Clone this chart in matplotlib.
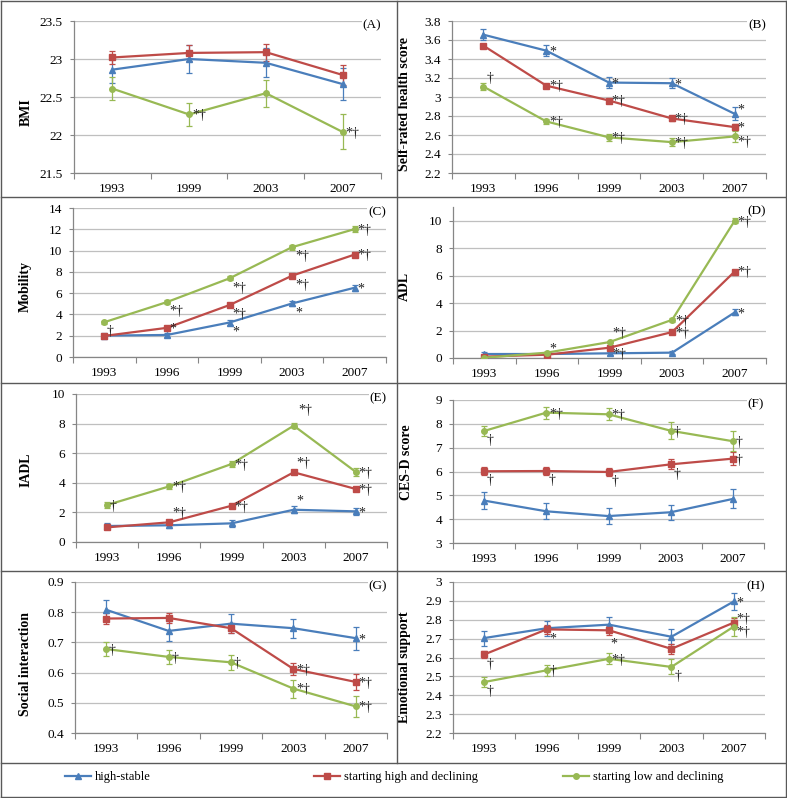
import numpy as np
import matplotlib
matplotlib.use('Agg')
import matplotlib.pyplot as plt
from matplotlib.lines import Line2D
from matplotlib.ticker import FixedLocator, NullFormatter, FormatStrFormatter

plt.rcParams['font.family'] = ['Liberation Serif', 'DejaVu Serif']

W, H = 787, 798

years4 = ['1993', '1999', '2003', '2007']
years5 = ['1993', '1996', '1999', '2003', '2007']
groups = ['high-stable', 'starting high and declining', 'starting low and declining']
colors = ['#4A7EBB', '#BE4B48', '#98B954']
markers = ['^', 's', 'o']

# rows: high-stable, starting high and declining, starting low and declining
bmi = [[22.86, 23.00, 22.95, 22.67],
       [23.02, 23.08, 23.09, 22.79],
       [22.61, 22.27, 22.55, 22.04]]
bmi_err = [[0.18, 0.19, 0.19, 0.21],
           [0.09, 0.11, 0.11, 0.13],
           [0.15, 0.15, 0.18, 0.23]]

srh = [[3.656, 3.488, 3.152, 3.145, 2.823],
       [3.54, 3.12, 2.963, 2.774, 2.683],
       [3.11, 2.743, 2.575, 2.525, 2.585]]
srh_err = [[0.055, 0.06, 0.055, 0.055, 0.07],
           [0.02, 0.02, 0.02, 0.025, 0.03],
           [0.04, 0.03, 0.035, 0.045, 0.055]]

mobility = [[2.01, 2.07, 3.24, 5.03, 6.51],
            [1.98, 2.74, 4.88, 7.64, 9.63],
            [3.27, 5.16, 7.39, 10.32, 12.02]]
mobility_err = [[0.2, 0.2, 0.25, 0.25, 0.3],
                [0.15, 0.15, 0.15, 0.15, 0.2],
                [0.15, 0.15, 0.2, 0.25, 0.25]]

adl = [[0.29, 0.29, 0.34, 0.39, 3.32],
       [0.1, 0.24, 0.75, 1.89, 6.3],
       [0.02, 0.39, 1.16, 2.78, 10.0]]
adl_err = [[0.15, 0.05, 0.1, 0.12, 0.22],
           [0.03, 0.05, 0.06, 0.1, 0.12],
           [0.02, 0.06, 0.1, 0.15, 0.18]]

iadl = [[1.08, 1.13, 1.26, 2.18, 2.07],
        [0.99, 1.33, 2.45, 4.71, 3.58],
        [2.5, 3.76, 5.27, 7.86, 4.73]]
iadl_err = [[0.22, 0.2, 0.25, 0.22, 0.25],
            [0.1, 0.1, 0.1, 0.1, 0.1],
            [0.2, 0.18, 0.2, 0.18, 0.25]]

cesd = [[4.78, 4.33, 4.13, 4.29, 4.85],
        [6.01, 6.02, 5.98, 6.3, 6.54],
        [7.7, 8.47, 8.4, 7.71, 7.27]]
cesd_err = [[0.35, 0.33, 0.33, 0.32, 0.4],
            [0.17, 0.18, 0.18, 0.21, 0.28],
            [0.22, 0.25, 0.25, 0.35, 0.42]]

social = [[0.808, 0.738, 0.762, 0.747, 0.714],
          [0.779, 0.781, 0.747, 0.612, 0.569],
          [0.678, 0.652, 0.634, 0.547, 0.488]]
social_err = [[0.032, 0.033, 0.032, 0.032, 0.038],
              [0.017, 0.018, 0.017, 0.02, 0.025],
              [0.023, 0.024, 0.025, 0.03, 0.035]]

emotional = [[2.703, 2.755, 2.774, 2.71, 2.897],
             [2.616, 2.749, 2.744, 2.646, 2.785],
             [2.47, 2.532, 2.593, 2.55, 2.764]]
emotional_err = [[0.04, 0.04, 0.04, 0.04, 0.045],
                 [0.02, 0.025, 0.025, 0.025, 0.025],
                 [0.027, 0.03, 0.03, 0.04, 0.05]]

# significance marks: (group, point, text, placement)
bmi_notes = [(2, 1, '*†', 'r'), (2, 3, '*†', 'r')]
srh_notes = [(0, 1, '*', 'r'), (0, 2, '*', 'r'), (0, 3, '*', 'r'), (0, 4, '*', 'ar'),
             (1, 1, '*†', 'r'), (1, 2, '*†', 'r'), (1, 3, '*†', 'r'), (1, 4, '*', 'r'),
             (2, 0, '†', 'a'), (2, 1, '*†', 'r'), (2, 2, '*†', 'r'), (2, 3, '*†', 'r'),
             (2, 4, '*†', 'dr')]
mobility_notes = [(2, 0, '†', 'br'), (2, 1, '*†', 'br'), (2, 2, '*†', 'br'), (2, 3, '*†', 'br'),
                  (2, 4, '*†', 'r'), (1, 1, '*', 'r'), (1, 2, '*†', 'br'), (1, 3, '*†', 'br'),
                  (1, 4, '*†', 'r'), (0, 2, '*', 'br'), (0, 3, '*', 'br'), (0, 4, '*', 'r')]
adl_notes = [(2, 1, '*', 'ar'), (2, 2, '*†', 'a'), (0, 2, '*†', 'r'), (2, 3, '*†', 'r'),
             (1, 3, '*†', 'r'), (2, 4, '*†', 'r'), (1, 4, '*†', 'r'), (0, 4, '*', 'r')]
iadl_notes = [(2, 0, '†', 'r'), (2, 1, '*†', 'r'), (2, 2, '*†', 'r'), (2, 3, '*†', 'aa'),
              (2, 4, '*†', 'r'), (1, 1, '*†', 'a'), (1, 2, '*†', 'r'), (1, 3, '*†', 'a'),
              (1, 4, '*†', 'r'), (0, 3, '*', 'a'), (0, 4, '*', 'r')]
cesd_notes = [(2, 0, '†', 'br'), (2, 1, '*†', 'r'), (2, 2, '*†', 'r'), (2, 3, '†', 'r'),
              (2, 4, '†', 'r'), (1, 0, '†', 'br'), (1, 1, '†', 'br'), (1, 2, '†', 'br'),
              (1, 3, '†', 'br'), (1, 4, '†', 'r')]
social_notes = [(0, 4, '*', 'r'), (1, 3, '*†', 'r'), (1, 4, '*†', 'r'), (2, 0, '†', 'r'),
                (2, 1, '†', 'r'), (2, 2, '†', 'r'), (2, 3, '*†', 'r'), (2, 4, '*†', 'r')]
emotional_notes = [(0, 4, '*', 'r'), (1, 0, '†', 'br'), (1, 1, '*', 'br'), (1, 2, '*', 'b'),
                   (1, 4, '*†', 'ar'), (2, 0, '†', 'br'), (2, 1, '†', 'r'), (2, 2, '*†', 'r'),
                   (2, 3, '†', 'br'), (2, 4, '*†', 'dr')]

offsets = {'r': (2, -1), 'ar': (2, 2.5), 'dr': (2, -4.5), 'br': (2, -7), 'b': (1, -10),
           'a': (2, 6), 'aa': (3, 11)}

# panel geometry in pixels: left, top, right, bottom ; label centre x, y
panels = [
    dict(cats=years4, vals=bmi, errs=bmi_err, notes=bmi_notes, ticks=(21.5, 23.5, 0.5), top=23.5,
         ylabel='BMI', tag='(A)', box=(74, 21, 381, 173), lab=(33, 112)),
    dict(cats=years5, vals=srh, errs=srh_err, notes=srh_notes, ticks=(2.2, 3.8, 0.2), top=3.8,
         ylabel='Self-rated health score', tag='(B)', box=(452, 21, 766, 173), lab=(411, 104)),
    dict(cats=years5, vals=mobility, errs=mobility_err, notes=mobility_notes, ticks=(0, 14, 2), top=14,
         ylabel='Mobility', tag='(C)', box=(73, 208, 386, 357), lab=(32, 287)),
    dict(cats=years5, vals=adl, errs=adl_err, notes=adl_notes, ticks=(0, 10, 2), top=11,
         ylabel='ADL', tag='(D)', box=(453, 207, 766, 358), lab=(411, 286)),
    dict(cats=years5, vals=iadl, errs=iadl_err, notes=iadl_notes, ticks=(0, 10, 2), top=10,
         ylabel='IADL', tag='(E)', box=(76, 394, 387, 542), lab=(33, 470)),
    dict(cats=years5, vals=cesd, errs=cesd_err, notes=cesd_notes, ticks=(3, 9, 1), top=9,
         ylabel='CES-D score', tag='(F)', box=(453, 400, 764, 543), lab=(413, 462)),
    dict(cats=years5, vals=social, errs=social_err, notes=social_notes, ticks=(0.4, 0.9, 0.1), top=0.9,
         ylabel='Social interaction', tag='(G)', box=(75, 582, 387, 733), lab=(32, 664)),
    dict(cats=years5, vals=emotional, errs=emotional_err, notes=emotional_notes, ticks=(2.2, 3.0, 0.1), top=3.0,
         ylabel='Emotional support', tag='(H)', box=(453, 582, 765, 733), lab=(411, 667)),
]

fig = plt.figure(figsize=(W / 100, H / 100), dpi=100)
axis_col = '#868686'

for p in panels:
    l, t, r, b = p['box']
    ax = fig.add_axes([l / W, 1 - b / H, (r - l) / W, (b - t) / H])
    n = len(p['cats'])
    x = np.arange(n)
    for g in range(3):
        ax.errorbar(x, p['vals'][g], yerr=p['errs'][g], color=colors[g], marker=markers[g],
                    ms=4, lw=1.6, elinewidth=0.9, capsize=2.5, capthick=0.9, zorder=3)
    for g, i, txt, where in p['notes']:
        ax.annotate(txt, (x[i], p['vals'][g][i]), xytext=offsets[where], textcoords='offset points',
                    ha='left', va='center', fontsize=10, color='#222222', zorder=4)

    lo, hi, step = p['ticks']
    ax.set_xlim(-0.5, n - 0.5)
    ax.set_ylim(lo, p['top'])
    ax.yaxis.set_major_locator(FixedLocator(np.round(np.arange(lo, hi + step / 2, step), 3)))
    ax.yaxis.set_major_formatter(FormatStrFormatter('%g'))
    ax.xaxis.set_major_locator(FixedLocator(np.arange(n + 1) - 0.5))
    ax.xaxis.set_major_formatter(NullFormatter())
    ax.set_xticks(x, p['cats'], minor=True)
    ax.tick_params(axis='x', which='major', length=4, color=axis_col, width=0.8)
    ax.tick_params(axis='x', which='minor', length=0, pad=7, labelsize=9.5)
    ax.tick_params(axis='y', length=3, color=axis_col, width=0.8, pad=5, labelsize=9.5)
    ax.yaxis.grid(True, color='#BFBFBF', lw=0.9)
    ax.set_axisbelow(True)
    for s in ['top', 'right']:
        ax.spines[s].set_visible(False)
    for s in ['left', 'bottom']:
        ax.spines[s].set_color(axis_col)
        ax.spines[s].set_linewidth(0.9)

    ax.set_ylabel(p['ylabel'], fontsize=10, fontweight='bold')
    lx, ly = p['lab']
    ax.yaxis.set_label_coords(lx / W, 1 - ly / H, transform=fig.transFigure)
    ax.annotate(p['tag'], (1, 1), xycoords='axes fraction', xytext=(0, -3), textcoords='offset points',
                ha='right', va='center', fontsize=9.5,
                bbox=dict(facecolor='white', edgecolor='none', pad=0.5))

# panel frame
frame_col = '#595959'
for y in [1, 197, 383, 571, 763, 797]:
    fig.add_artist(Line2D([1 / W, 786 / W], [1 - y / H, 1 - y / H], color=frame_col, lw=1))
for xx, y1 in [(1, 797), (397, 763), (786, 797)]:
    fig.add_artist(Line2D([xx / W, xx / W], [1 - 1 / H, 1 - y1 / H], color=frame_col, lw=1))

# legend
for g, xpos in zip(range(3), [65, 314, 563]):
    h = Line2D([], [], color=colors[g], marker=markers[g], ms=4, lw=1.6)
    fig.legend([h], [groups[g]], loc='center left', bbox_to_anchor=(xpos / W, 1 - 777 / H),
               frameon=False, fontsize=9, handlelength=2.1, handletextpad=0.3,
               borderpad=0, borderaxespad=0)

fig.savefig('out.png', dpi=100)
